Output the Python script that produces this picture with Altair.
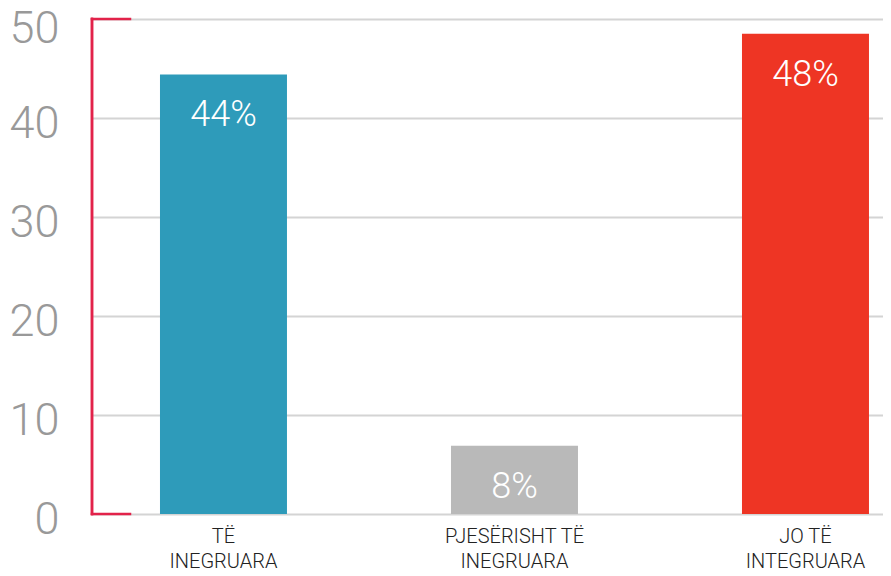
import altair as alt
import pandas as pd

categories = ["TË\nINEGRUARA", "PJESËRISHT TË\nINEGRUARA", "JO TË\nINTEGRUARA"]
values = [44.4, 6.9, 48.5]
labels = ["44%", "8%", "48%"]
colors = ["#2E9BBA", "#B9B9B9", "#EE3524"]
y_ticks = [0, 10, 20, 30, 40, 50]
bracket_ends = [0, 50]

df = pd.DataFrame({"cat": categories, "value": values, "label": labels, "color": colors})
df_br = pd.DataFrame({"v": bracket_ends})

W, H = 791, 495
RED = "#E2224A"

x = alt.X(
    "cat:N",
    sort=categories,
    scale=alt.Scale(paddingInner=0.5636, paddingOuter=0.1409, align=0.829),
    axis=alt.Axis(
        title=None, labelAngle=0, domain=False, ticks=False,
        labelExpr="split(datum.label, '\\n')",
        labelFontSize=20, labelColor="#222222", labelFont="Roboto", labelFontWeight=300,
        labelPadding=12, labelLineHeight=25, labelBaseline="top",
    ),
)
y = alt.Y(
    "value:Q",
    scale=alt.Scale(domain=[0, 50], nice=False),
    axis=alt.Axis(
        title=None, values=y_ticks, domain=False, ticks=False, grid=True,
        gridColor="#D4D4D4", gridWidth=2,
        labelFontSize=45, labelColor="#999999", labelFont="Roboto", labelFontWeight=300,
        labelPadding=33, labelBaseline="middle",
        labelOffset={"condition": {"test": "datum.value == 50", "value": 9}, "value": 5},
    ),
)

bars = alt.Chart(df).mark_bar().encode(
    x=x, y=y, color=alt.Color("color:N", scale=None)
)
text = alt.Chart(df).mark_text(
    color="white", fontSize=36, font="Roboto", fontWeight=300, baseline="alphabetic", dy=52
).encode(x=x, y=y, text="label:N")

vrule = alt.Chart(df_br).mark_rule(color=RED, strokeWidth=2.5, strokeCap="square").encode(
    x=alt.value(0), y=alt.datum(0), y2=alt.datum(50)
)
hrule = alt.Chart(df_br).mark_rule(color=RED, strokeWidth=2.5, strokeCap="square").encode(
    y=alt.Y("v:Q"), x=alt.value(0), x2=alt.value(38)
)

chart = alt.layer(bars, text, vrule, hrule).properties(
    width=W, height=H,
    autosize=alt.AutoSizeParams(type="none"),
    padding={"left": 84, "top": 11, "right": 0, "bottom": 62},
).configure_view(stroke=None)

chart.save("out.html", embed_options={"renderer": "svg", "actions": False})
